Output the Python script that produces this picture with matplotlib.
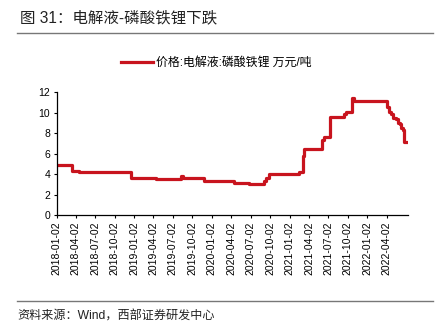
import pandas as pd
import matplotlib.pyplot as plt
from matplotlib.lines import Line2D

plt.rcParams['font.family'] = ['Liberation Sans', 'Noto Sans CJK SC']

# 磷酸铁锂电解液价格（万元/吨），每个日期起的报价
dates = ["2018-01-02", "2018-03-15", "2018-04-19", "2018-12-17", "2019-04-14",
         "2019-08-10", "2019-08-17", "2019-11-28", "2020-04-17", "2020-06-26",
         "2020-09-05", "2020-09-14", "2020-09-28", "2020-10-17", "2021-02-16",
         "2021-03-07", "2021-03-12", "2021-03-17", "2021-06-03", "2021-06-14",
         "2021-07-11", "2021-09-12", "2021-09-24", "2021-10-22", "2021-10-29",
         "2022-03-23", "2022-04-03", "2022-04-13", "2022-04-24", "2022-05-01",
         "2022-05-14", "2022-05-25", "2022-06-05", "2022-06-10", "2022-06-17",
         "2022-06-21", "2022-07-11"]
prices = [4.95, 4.35, 4.2, 3.65, 3.55,
          3.85, 3.65, 3.35, 3.2, 3.05,
          3.3, 3.6, 4.05, 4.05, 4.2,
          5.8, 6.5, 6.5, 7.3, 7.6,
          9.6, 9.85, 10.05, 11.4, 11.15,
          11.15, 10.6, 10.1, 9.9, 9.5,
          9.4, 9.0, 8.9, 8.5, 8.35,
          7.15, 7.15]

tick_dates = pd.date_range("2018-01-01", "2022-04-01", freq="3MS") + pd.Timedelta(days=1)
tick_labels = [d.strftime("%Y-%m-%d") for d in tick_dates]

x = pd.to_datetime(dates)

fig = plt.figure(figsize=(4.36, 3.31), dpi=100)
ax = fig.add_axes([0.1296, 0.3495, 0.806, 0.3716])

ax.plot(x, prices, color="#C8141E", lw=2.3, drawstyle="steps-post",
        label="价格:电解液:磷酸铁锂 万元/吨")

ax.set_ylim(0, 12)
ax.set_yticks(range(0, 13, 2))
ax.set_xlim(x[0], x[-1])
ax.set_xticks(tick_dates)
ax.set_xticklabels(tick_labels, rotation=90)

for side in ["top", "right"]:
    ax.spines[side].set_visible(False)
for side in ["left", "bottom"]:
    ax.spines[side].set_linewidth(0.9)
ax.tick_params(axis="both", direction="out", length=2.5, width=0.8, labelsize=7.5, pad=2)

ax.legend(loc="center", bbox_to_anchor=(0.496, 0.81), bbox_transform=fig.transFigure,
          frameon=False, fontsize=8.6, handlelength=2.7, handletextpad=0.25)

fig.text(0.046, 0.946, "图 31：电解液-磷酸铁锂下跌", fontsize=11.2, color="#222222",
         va="center", ha="left")
fig.add_artist(Line2D([0.039, 0.993], [0.9, 0.9], color="#777777", lw=1.0))
fig.add_artist(Line2D([0.039, 0.993], [0.092, 0.092], color="#777777", lw=1.0))
fig.text(0.039, 0.045, "资料来源：Wind，西部证券研发中心", fontsize=8.7, color="#222222",
         va="center", ha="left")

fig.savefig("out.png", dpi=100)
